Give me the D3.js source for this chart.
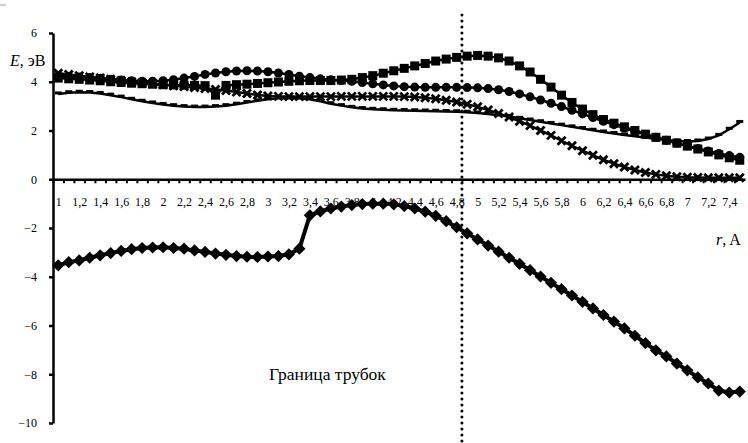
<html>
<head>
<meta charset="UTF-8">
<script src="https://d3js.org/d3.v7.min.js"></script>
<style>
  body { margin: 0; background: #fff; }
  svg text { font-family: "Liberation Serif", "Times New Roman", "DejaVu Serif", serif !important; fill: #000; }
  .axis .domain { stroke: #000; stroke-width: 2.5px; }
  .axis line { stroke: #000; }
  .serie { fill: none; stroke: #000; }
</style>
</head>
<body>
<svg id="chart" width="748" height="443"></svg>
<script>
// radius values, step 0.1
const rVals = d3.range(10, 76).map(d => d / 10);
const xLabels = d3.range(10, 75, 2).map(d => d / 10);
const yTicks = [6, 4, 2, 0, -2, -4, -6, -8, -10];
const border = 4.85; // граница трубок

const diamonds = [-3.53, -3.40, -3.33, -3.22, -3.12, -3.03, -2.94, -2.87, -2.82, -2.80,
  -2.79, -2.82, -2.85, -2.92, -2.98, -3.05, -3.10, -3.15, -3.18, -3.19,
  -3.17, -3.15, -3.08, -2.85, -1.48, -1.32, -1.20, -1.12, -1.06, -1.02,
  -1.00, -1.00, -1.03, -1.10, -1.20, -1.33, -1.50, -1.72, -1.97, -2.22,
  -2.47, -2.72, -2.97, -3.22, -3.47, -3.73, -3.99, -4.25, -4.51, -4.77,
  -5.03, -5.30, -5.57, -5.84, -6.12, -6.42, -6.72, -7.02, -7.27, -7.56,
  -7.84, -8.13, -8.38, -8.67, -8.75, -8.71];

const squares = [4.15, 4.12, 4.10, 4.07, 4.04, 4.00, 3.97, 3.94, 3.92, 3.90,
  3.88, 3.87, 3.86, 3.85, 3.84, 3.45, 3.85, 3.88, 3.90, 3.93,
  3.96, 3.99, 4.02, 4.04, 4.05, 4.05, 4.05, 4.07, 4.10, 4.17,
  4.25, 4.35, 4.45, 4.55, 4.65, 4.75, 4.85, 4.93, 5.00, 5.05,
  5.08, 5.05, 4.98, 4.85, 4.65, 4.40, 4.10, 3.78, 3.45, 3.15,
  2.88, 2.65, 2.45, 2.30, 2.15, 2.00, 1.85, 1.72, 1.60, 1.48,
  1.36, 1.24, 1.12, 1.00, 0.88, 0.78];

const circles = [4.25, 4.22, 4.20, 4.17, 4.14, 4.10, 4.07, 4.04, 4.02, 4.02,
  4.04, 4.08, 4.15, 4.22, 4.30, 4.36, 4.41, 4.44, 4.45, 4.44,
  4.41, 4.36, 4.30, 4.23, 4.17, 4.12, 4.08, 4.05, 4.02, 3.97,
  3.92, 3.87, 3.83, 3.80, 3.78, 3.77, 3.77, 3.77, 3.77, 3.76,
  3.75, 3.72, 3.67, 3.60, 3.50, 3.38, 3.25, 3.12, 2.98, 2.83,
  2.68, 2.53, 2.38, 2.24, 2.10, 1.97, 1.84, 1.72, 1.60, 1.48,
  1.37, 1.26, 1.16, 1.06, 0.97, 0.90];

const crosses = [4.35, 4.30, 4.25, 4.20, 4.15, 4.10, 4.05, 4.00, 3.96, 3.92,
  3.88, 3.84, 3.80, 3.76, 3.72, 3.68, 3.64, 3.58, 3.52, 3.46,
  3.42, 3.40, 3.39, 3.39, 3.39, 3.39, 3.39, 3.40, 3.40, 3.40,
  3.40, 3.40, 3.40, 3.39, 3.37, 3.34, 3.30, 3.24, 3.17, 3.08,
  2.97, 2.84, 2.70, 2.55, 2.38, 2.20, 2.00, 1.80, 1.58, 1.37,
  1.17, 0.98, 0.80, 0.64, 0.50, 0.38, 0.28, 0.20, 0.14, 0.10,
  0.08, 0.07, 0.06, 0.06, 0.06, 0.06];

const dashes = [3.50, 3.55, 3.57, 3.56, 3.52, 3.45, 3.37, 3.28, 3.20, 3.13,
  3.07, 3.02, 2.98, 2.96, 2.96, 2.98, 3.02, 3.08, 3.15, 3.22,
  3.28, 3.32, 3.33, 3.32, 3.28, 3.20, 3.10, 3.02, 2.95, 2.90,
  2.87, 2.85, 2.83, 2.82, 2.81, 2.80, 2.79, 2.78, 2.77, 2.75,
  2.72, 2.68, 2.63, 2.57, 2.50, 2.43, 2.36, 2.29, 2.22, 2.15,
  2.08, 2.01, 1.94, 1.88, 1.82, 1.76, 1.71, 1.66, 1.61, 1.57,
  1.55, 1.57, 1.65, 1.80, 2.05, 2.33];

const svg = d3.select('#chart');
const fmt = v => String(v).replace('.', ',');
const serif = '"Liberation Serif", "Times New Roman", "DejaVu Serif", serif';

// categories spread over the plot, first one half a step from the axis
const x = d3.scaleLinear().domain([0.95, 7.55]).range([53, 745]);
const y = d3.scaleLinear().domain([6, -10]).range([33, 423]);

// y axis
svg.append('g').attr('class', 'axis').attr('font-family', serif)
   .attr('transform', 'translate(' + x(0.95) + ',0)')
   .call(d3.axisLeft(y).tickValues(yTicks).tickSize(4).tickSizeOuter(0).tickPadding(12))
   .call(g => g.selectAll('.tick line').attr('stroke-width', 2.5))
   .call(g => g.selectAll('text').style('font-size', '12px'));

// x axis with tick marks between categories
svg.append('g').attr('class', 'axis')
   .attr('transform', 'translate(0,' + y(0) + ')')
   .call(d3.axisBottom(x).tickValues(d3.range(10, 76).map(d => d / 10 - 0.05)).tickSize(4)
           .tickSizeOuter(0).tickFormat(''))
   .call(g => g.selectAll('.tick line').attr('stroke-width', 2));

svg.append('g').attr('font-family', serif)
   .attr('transform', 'translate(0,' + y(0) + ')')
   .call(d3.axisBottom(x).tickValues(xLabels).tickSize(0).tickPadding(18).tickFormat(fmt))
   .call(g => g.select('.domain').remove())
   .call(g => g.selectAll('text').style('font-size', '12px'));

// axis titles
svg.append('text').attr('x', 10).attr('y', 66).attr('font-family', serif).style('font-size', '16px')
   .html('<tspan font-style="italic">E</tspan>, эВ');
svg.append('text').attr('x', 716).attr('y', 245).attr('font-family', serif).style('font-size', '16px')
   .html('<tspan font-style="italic">r</tspan>, A');

const line = d3.line().x((d, i) => x(rVals[i])).y(d => y(d));

function drawSerie(values, width, marker) {
  svg.append('path').datum(values).attr('class', 'serie')
     .attr('stroke-width', width).attr('d', line);
  const g = svg.append('g');
  values.forEach((v, i) => {
    const cx = x(rVals[i]), cy = y(v);
    if (marker === 'diamond') {
      g.append('path').attr('d', d3.symbol().type(d3.symbolDiamond2).size(95)())
       .attr('transform', 'translate(' + cx + ',' + cy + ')').attr('fill', '#000');
    } else if (marker === 'square') {
      g.append('rect').attr('x', cx - 4.5).attr('y', cy - 4.5).attr('width', 9).attr('height', 9)
       .attr('fill', '#000');
    } else if (marker === 'circle') {
      g.append('circle').attr('cx', cx).attr('cy', cy).attr('r', 4.5).attr('fill', '#000');
    } else if (marker === 'cross') {
      g.append('path').attr('d', 'M' + (cx - 4) + ',' + (cy - 4) + 'L' + (cx + 4) + ',' + (cy + 4)
         + 'M' + (cx - 4) + ',' + (cy + 4) + 'L' + (cx + 4) + ',' + (cy - 4))
       .attr('stroke', '#000').attr('stroke-width', 2.8);
    } else {
      g.append('line').attr('x1', cx - 3.5).attr('x2', cx + 3.5).attr('y1', cy - 1).attr('y2', cy - 1)
       .attr('stroke', '#000').attr('stroke-width', 3);
    }
  });
}

drawSerie(diamonds, 4, 'diamond');
drawSerie(dashes, 2.5, 'dash');
drawSerie(crosses, 2.5, 'cross');
drawSerie(circles, 2.5, 'circle');
drawSerie(squares, 2.5, 'square');

// граница трубок
const bx = x(border);
svg.append('line').attr('x1', bx).attr('x2', bx).attr('y1', 15).attr('y2', 443)
   .attr('stroke', '#000').attr('stroke-width', 3)
   .attr('stroke-linecap', 'round').attr('stroke-dasharray', '0,6');

svg.append('text').attr('x', 269).attr('y', 380).attr('font-family', serif).style('font-size', '17.5px')
   .text('Граница трубок');

// small corner mark of the chart frame
svg.append('line').attr('x1', 0).attr('x2', 6).attr('y1', 5).attr('y2', 5)
   .attr('stroke', '#999').attr('stroke-width', 1);
</script>
</body>
</html>
